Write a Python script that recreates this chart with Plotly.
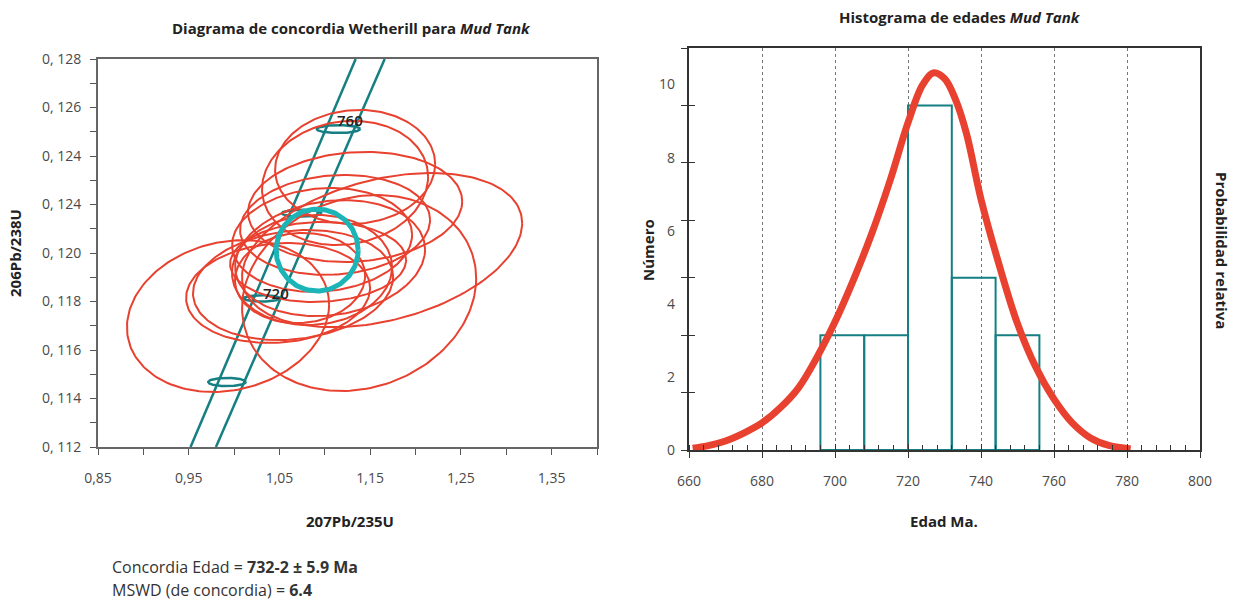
import numpy as np
import plotly.graph_objects as go

# ---------------- Concordia diagram data ----------------
# Spot analyses: 207Pb/235U, 206Pb/238U, ellipse half-extents and error correlation
spot_x = [1.1334, 1.1223, 1.1334, 1.1631, 1.1378, 0.9933, 1.0485,
          1.0970, 1.1058, 1.0859, 1.0727, 1.1113, 1.0650, 1.0926]
spot_sx = [0.0882, 0.0915, 0.1180, 0.1544, 0.1290, 0.1114, 0.1014,
           0.0992, 0.1047, 0.0882, 0.0717, 0.1047, 0.1103, 0.0970]
spot_y = [0.12355, 0.12289, 0.12190, 0.12012, 0.11835, 0.11740, 0.11835,
          0.12054, 0.11979, 0.11930, 0.11897, 0.12116, 0.11868, 0.11963]
spot_sy = [0.00235, 0.00256, 0.00227, 0.00318, 0.00404, 0.00313, 0.00206,
           0.00214, 0.00239, 0.00227, 0.00186, 0.00206, 0.00227, 0.00165]
spot_rho = [0.05, 0.10, 0.10, 0.35, 0.15, 0.15, 0.10,
            0.10, 0.15, 0.05, 0.05, 0.10, 0.15, 0.05]

# Concordia curve with its uncertainty band (two edges)
band_lo_x = [0.952, 1.134]
band_lo_y = [0.112, 0.128]
band_hi_x = [0.980, 1.166]
band_hi_y = [0.112, 0.128]

# Age markers along the concordia (Ma)
marker_age = [700, 720, 740, 760]
marker_x = [0.9922, 1.0305, 1.0746, 1.1150]
marker_y = [0.11468, 0.11813, 0.12164, 0.12511]
marker_sx = [0.0207, 0.0198, 0.0220, 0.0239]
marker_sy = [0.00017, 0.00013, 0.00014, 0.00016]
marker_label = ["", "720", "", "760"]
label_x = [None, 1.0462, None, 1.1278]
label_y = [None, 0.11835, None, 0.12548]

# Concordia age ellipse
conc_x, conc_y = 1.0915, 0.12012
conc_sx, conc_sy = 0.0452, 0.00169

left_xticks = [0.85, 0.90, 0.95, 1.00, 1.05, 1.10, 1.15, 1.20, 1.25, 1.30, 1.35, 1.40]
left_xtext = ["0,85", "", "0,95", "", "1,05", "", "1,15", "", "1,25", "", "1,35", ""]
left_yticks = [0.112, 0.113, 0.114, 0.115, 0.116, 0.117, 0.118, 0.119, 0.120,
               0.121, 0.122, 0.123, 0.124, 0.125, 0.126, 0.127, 0.128]
left_ytext = ["0, 112", "", "0, 114", "", "0, 116", "", "0, 118", "", "0, 120",
              "", "0, 124", "", "0, 124", "", "0, 126", "", "0, 128"]

# ---------------- Age histogram data ----------------
bin_edges = [696, 708, 720, 732, 744, 756]
counts = [2, 2, 6, 3, 2]

prob_age = [661, 665, 670, 675, 680, 685, 690, 695, 700, 705, 710, 715, 720,
            724, 727, 730, 733, 736, 740, 745, 750, 755, 760, 765, 770, 775, 781]
prob_rel = [0.005, 0.011, 0.024, 0.045, 0.072, 0.112, 0.165, 0.245, 0.340,
            0.450, 0.572, 0.712, 0.868, 0.968, 1.000, 0.985, 0.930, 0.840,
            0.665, 0.490, 0.335, 0.220, 0.135, 0.072, 0.032, 0.012, 0.003]

number_ticks = [0, 2, 4, 6, 8, 10]

# ---------------- Styles ----------------
RED = "#e8412f"
TEAL = "#157f83"
TURQ = "#1bb5b8"
FONT = "Open Sans"
TICK_COLOR = "#4a4a4a"
W, H = 1236, 602


def ellipse_path(cx, cy, sx, sy, rho, n=180):
    t = np.linspace(0, 2 * np.pi, n)
    xs = cx + sx * np.cos(t)
    ys = cy + sy * (rho * np.cos(t) + np.sqrt(1 - rho ** 2) * np.sin(t))
    return xs, ys


fig = go.Figure()

# concordia band edges
for bx, by in ((band_lo_x, band_lo_y), (band_hi_x, band_hi_y)):
    fig.add_trace(go.Scatter(x=bx, y=by, mode="lines",
                             line=dict(color=TEAL, width=2.5), xaxis="x", yaxis="y",
                             hoverinfo="skip"))

# age markers on the concordia
for i in range(len(marker_age)):
    ex, ey = ellipse_path(marker_x[i], marker_y[i], marker_sx[i], marker_sy[i], 0.0)
    fig.add_trace(go.Scatter(x=ex, y=ey, mode="lines",
                             line=dict(color=TEAL, width=2.5), xaxis="x", yaxis="y",
                             hoverinfo="skip"))

# spot ellipses
for i in range(len(spot_x)):
    ex, ey = ellipse_path(spot_x[i], spot_y[i], spot_sx[i], spot_sy[i], spot_rho[i])
    fig.add_trace(go.Scatter(x=ex, y=ey, mode="lines",
                             line=dict(color=RED, width=2), xaxis="x", yaxis="y",
                             hoverinfo="skip"))

# concordia age ellipse
ex, ey = ellipse_path(conc_x, conc_y, conc_sx, conc_sy, 0.0)
fig.add_trace(go.Scatter(x=ex, y=ey, mode="lines",
                         line=dict(color=TURQ, width=5), xaxis="x", yaxis="y",
                         hoverinfo="skip"))

# histogram bars on the count axis
bin_centers = [(bin_edges[i] + bin_edges[i + 1]) / 2 for i in range(len(counts))]
bin_widths = [bin_edges[i + 1] - bin_edges[i] for i in range(len(counts))]
fig.add_trace(go.Bar(x=bin_centers, y=counts, width=bin_widths,
                     marker=dict(color="rgba(0,0,0,0)",
                                 line=dict(color=TEAL, width=2)),
                     xaxis="x2", yaxis="y2", hoverinfo="skip"))

# invisible anchors so the overlay axes (labels, crossing ticks) get rendered
for xa, ya, xs, ys in (("x2", "y3", [660, 660], [0, 10]),
                       ("x2", "y4", [660, 660], [0, 7]),
                       ("x3", "y2", [660, 800], [0, 0])):
    fig.add_trace(go.Scatter(x=xs, y=ys, mode="markers",
                             marker=dict(size=1, opacity=0), xaxis=xa, yaxis=ya,
                             hoverinfo="skip"))

# relative probability curve
fig.add_trace(go.Scatter(x=prob_age, y=prob_rel, mode="lines",
                         line=dict(color=RED, width=7, shape="spline", smoothing=1.0),
                         xaxis="x2", yaxis="y5", hoverinfo="skip"))

annotations = []
for i in range(len(marker_age)):
    if marker_label[i]:
        annotations.append(dict(x=label_x[i], y=label_y[i], xref="x", yref="y",
                                text=marker_label[i], showarrow=False,
                                font=dict(family=FONT, size=15, color="#222222",
                                          weight=600)))


def paper_text(x, y, text, size=15, angle=0, xanchor="center", color="#222222"):
    annotations.append(dict(x=x, y=y, xref="paper", yref="paper", text=text,
                            showarrow=False, textangle=angle, xanchor=xanchor,
                            yanchor="middle",
                            font=dict(family=FONT, size=size, color=color)))


paper_text(351 / W, 1 - 28 / H, "<b>Diagrama de concordia Wetherill para <i>Mud Tank</i></b>", 15)
paper_text(960 / W, 1 - 17 / H, "<b>Histograma de edades <i>Mud Tank</i></b>", 15)
paper_text(15 / W, 1 - 253 / H, "<b>206Pb/238U</b>", 15, -90)
paper_text(350 / W, 1 - 521 / H, "<b>207Pb/235U</b>", 15)
paper_text(648 / W, 1 - 250 / H, "<b>Número</b>", 15, -90)
paper_text(944 / W, 1 - 521 / H, "<b>Edad Ma.</b>", 15)
paper_text(1222 / W, 1 - 250 / H, "<b>Probabilidad relativa</b>", 15, 90)
paper_text(110 / W, 1 - 567 / H, "Concordia Edad = <b>732-2 ± 5.9 Ma</b>", 16, 0, "left", "#333333")
paper_text(110 / W, 1 - 590 / H, "MSWD (de concordia) = <b>6.4</b>", 16, 0, "left", "#333333")

left_dom_x = [98 / W, 597 / W]
left_dom_y = [1 - 447 / H, 1 - 59 / H]
right_dom_x = [689 / W, 1200 / W]
right_dom_y = [1 - 450 / H, 1 - 48 / H]

tickfont = dict(family=FONT, size=14, color=TICK_COLOR)
plain = dict(automargin=False, zeroline=False, showgrid=False)
dark = "#333333"

fig.update_layout(
    template="none",
    width=W, height=H,
    margin=dict(l=0, r=0, t=0, b=0, pad=0),
    paper_bgcolor="white", plot_bgcolor="white",
    showlegend=False,
    annotations=annotations,
    # concordia diagram
    xaxis=dict(domain=left_dom_x, anchor="y", range=[0.85, 1.40],
               tickvals=left_xticks, ticktext=left_xtext, ticks="outside",
               ticklen=6, tickcolor="#555555", tickwidth=1.2,
               showline=True, linecolor="#666666", linewidth=2, mirror=True,
               tickfont=tickfont, ticklabelstandoff=11, **plain),
    yaxis=dict(domain=left_dom_y, anchor="x", range=[0.112, 0.128],
               tickvals=left_yticks, ticktext=left_ytext, ticks="outside",
               ticklen=6, tickcolor="#555555", tickwidth=1.2,
               showline=True, linecolor="#666666", linewidth=2, mirror=True,
               tickfont=tickfont, ticklabelstandoff=6, **plain),
    # histogram: age axis
    xaxis2=dict(domain=right_dom_x, anchor="y2", range=[660, 800],
                tick0=660, dtick=20, ticks="outside", ticklen=6,
                tickcolor=dark, tickwidth=1.2,
                minor=dict(dtick=4, ticks="inside", ticklen=5,
                           tickcolor=dark, showgrid=False),
                showline=True, linecolor=dark, linewidth=1.5, mirror=True,
                showgrid=True, gridcolor="#777777", griddash="dot", gridwidth=1,
                zeroline=False, automargin=False,
                tickfont=tickfont, ticklabelstandoff=11),
    xaxis3=dict(domain=right_dom_x, overlaying="x2", anchor="y2", range=[660, 800],
                tick0=660, dtick=20, ticks="inside", ticklen=6,
                tickcolor=dark, tickwidth=1.2, showticklabels=False,
                showline=False, **plain),
    # histogram: count axis (tick marks, crossing the axis line)
    yaxis2=dict(domain=right_dom_y, anchor="x2", range=[0, 7], dtick=1,
                ticks="outside", ticklen=6, tickcolor=dark, tickwidth=1.2,
                showticklabels=False,
                showline=True, linecolor=dark, linewidth=1.5, mirror=True,
                **plain),
    yaxis4=dict(domain=right_dom_y, overlaying="y2", anchor="x2", range=[0, 7],
                dtick=1, ticks="inside", ticklen=6, tickcolor=dark,
                tickwidth=1.2, showticklabels=False, showline=False, **plain),
    # histogram: "Número" labels
    yaxis3=dict(domain=right_dom_y, overlaying="y2", anchor="x2", range=[0, 11],
                tickvals=number_ticks, ticks="", showline=False,
                tickfont=tickfont, ticklabelstandoff=13, **plain),
    # relative probability
    yaxis5=dict(domain=right_dom_y, overlaying="y2", anchor="x2", range=[0, 1.066],
                showticklabels=False, ticks="", showline=False, **plain),
)

fig.write_html("out.html")
